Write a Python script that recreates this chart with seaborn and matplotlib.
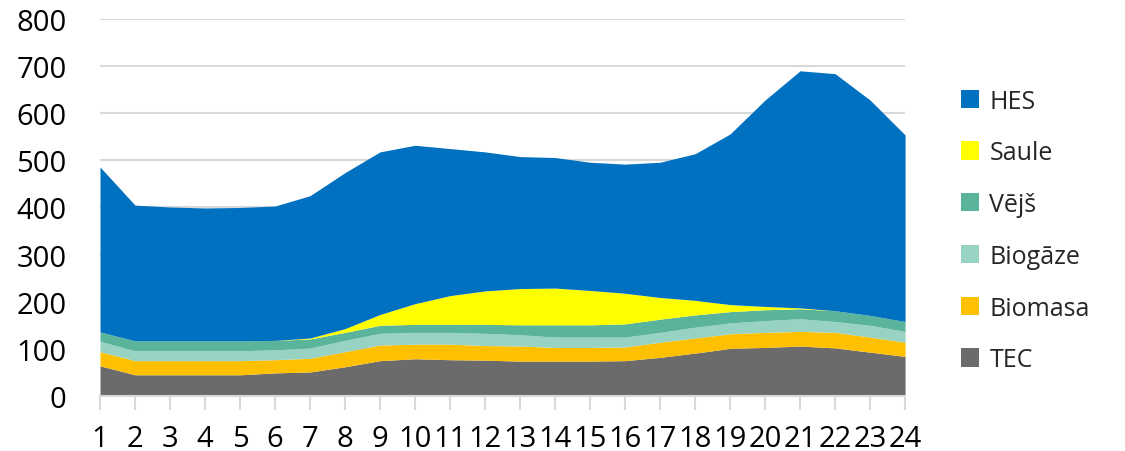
import matplotlib
matplotlib.use("Agg")
import matplotlib.pyplot as plt
import seaborn as sns
import numpy as np
from matplotlib.patches import Patch

hours = list(range(1, 25))
tec = [64, 45, 45, 45, 45, 49, 51, 62, 75, 79, 77, 76, 74, 74, 74, 75, 82, 91, 101, 103, 106, 102, 93, 84]
biomasa = [30, 30, 30, 30, 30, 28, 29, 32, 33, 31, 33, 31, 32, 29, 29, 29, 32, 32, 31, 32, 31, 33, 32, 30]
biogaze = [22, 21, 21, 21, 21, 21, 22, 24, 25, 25, 25, 26, 24, 22, 22, 21, 21, 23, 23, 25, 27, 23, 25, 23]
vejs = [20, 21, 21, 21, 21, 20, 19, 17, 17, 17, 17, 19, 21, 26, 26, 28, 28, 26, 24, 23, 21, 23, 21, 21]
saule = [0, 0, 0, 0, 0, 0, 2, 8, 23, 44, 61, 71, 77, 78, 73, 65, 46, 31, 15, 7, 2, 0, 0, 0]
hes = [350, 288, 284, 282, 283, 285, 302, 331, 345, 336, 312, 295, 280, 277, 272, 274, 287, 311, 362, 438, 503, 503, 457, 396]

series_names = ["TEC", "Biomasa", "Biogāze", "Vējš", "Saule", "HES"]
series_colors = ["#6B6B6B", "#FFC000", "#98D2C2", "#5AB39B", "#FFFF00", "#0070C0"]
y_ticks = [0, 100, 200, 300, 400, 500, 600, 700, 800]

sns.set_theme(style="white")
plt.rcParams["font.family"] = ["Open Sans", "DejaVu Sans"]

fig = plt.figure(figsize=(11.25, 4.52), dpi=100)
ax = fig.add_axes([0.0889, 0.1217, 0.7156, 0.8341])

ax.stackplot(hours, tec, biomasa, biogaze, vejs, saule, hes,
             colors=series_colors, labels=series_names, linewidth=0, zorder=2)

ax.set_xlim(1, 24)
ax.set_ylim(0, 800)
ax.set_yticks(y_ticks)
ax.set_xticks(hours)
ax.set_xticklabels([str(h) for h in hours])
ax.yaxis.grid(True, color="#D9D9D9", linewidth=1.5, zorder=0)
ax.xaxis.grid(False)
ax.set_axisbelow(True)

for s in ["left", "right", "top"]:
    ax.spines[s].set_visible(False)
ax.spines["bottom"].set_color("#D9D9D9")
ax.spines["bottom"].set_linewidth(1.5)
ax.spines["bottom"].set_zorder(3)

ax.tick_params(axis="x", which="major", direction="out", length=10, width=1.5,
               color="#D9D9D9", pad=10, labelsize=21, labelcolor="black", bottom=True)
ax.tick_params(axis="y", length=0, pad=24, labelsize=21, labelcolor="black")

handles = [Patch(facecolor=c, edgecolor="none") for c in series_colors][::-1]
labels = series_names[::-1]
leg = fig.legend(handles, labels, loc="upper left", bbox_to_anchor=(0.845, 0.824),
                 frameon=False, fontsize=18, handlelength=0.75, handleheight=0.75,
                 handletextpad=0.4, labelspacing=1.07, borderaxespad=0)

fig.savefig("out.png", dpi=100)
